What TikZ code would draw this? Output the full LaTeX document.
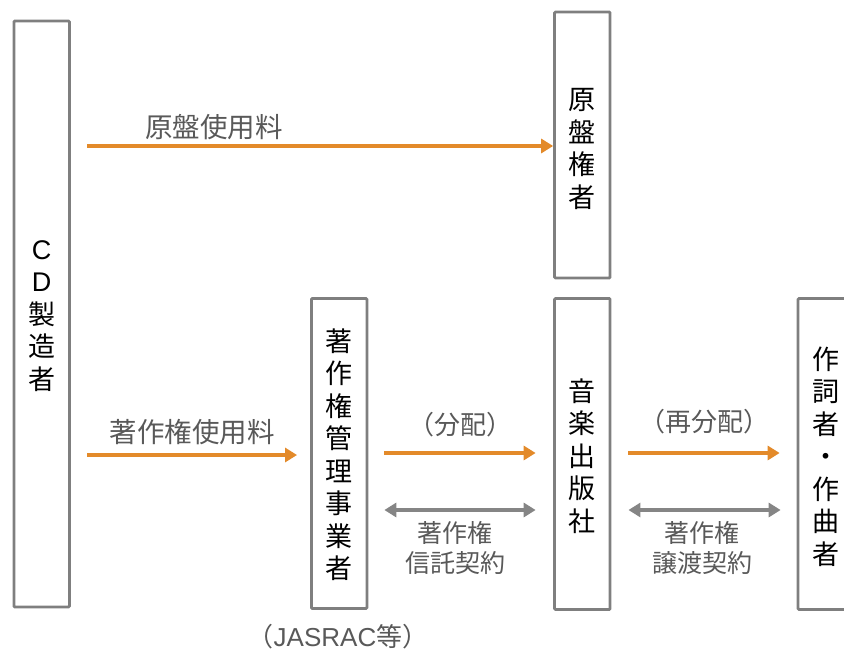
\documentclass[tikz,border=0pt]{standalone}
\usepackage{fontspec}
\setmainfont{Noto Sans CJK JP}
\newfontfamily\lat{Liberation Sans}
\usetikzlibrary{arrows.meta}
\definecolor{boxgray}{HTML}{7F7F7F}
\definecolor{orng}{HTML}{E38A2A}
\definecolor{agray}{HTML}{858585}
\definecolor{lblgray}{HTML}{595959}
\begin{document}
\begin{tikzpicture}[x=1pt,y=-1pt,
  box/.style={draw=boxgray,line width=2.8pt,rounded corners=1pt,minimum width=55.5pt,inner sep=0pt},
  boxtext/.style={inner sep=0pt,align=center,font=\fontsize{27}{32.5}\selectfont},
  oarrow/.style={draw=orng,line width=3.2pt,-{Triangle[length=12pt,width=14pt]}},
  garrow/.style={draw=agray,line width=3.2pt,{Triangle[length=12pt,width=14pt]}-{Triangle[length=12pt,width=14pt]}},
  lbl/.style={text=lblgray,inner sep=0pt,font=\fontsize{27.5}{30}\selectfont},
  plbl/.style={text=lblgray,inner sep=0pt,font=\fontsize{26}{30}\selectfont},
  slbl/.style={text=lblgray,inner sep=0pt,align=center,font=\fontsize{25}{30}\selectfont}]
\clip (0,0) rectangle (844,651);
% boxes
\node[box,minimum height=586pt] (cd) at (41.7,314) {};
\node[box,minimum height=266pt] (genban) at (582.3,145) {};
\node[box,minimum height=310pt] (kanri) at (339.2,453.5) {};
\node[box,minimum height=311pt] (ongaku) at (582.3,454) {};
\node[box,minimum height=311pt] (sakushi) at (825.8,454) {};
% box texts
\node[boxtext] (cdt) at (41.7,316) {{\lat C}\\{\lat D}\\製\\造\\者};
\node[boxtext] (genbant) at (582.3,149) {原\\盤\\権\\者};
\node[boxtext] (kanrit) at (339.2,454.5) {著\\作\\権\\管\\理\\事\\業\\者};
\node[boxtext] (ongakut) at (582.3,456) {音\\楽\\出\\版\\社};
\node[boxtext] (sakushit) at (825.8,456.5) {作\\詞\\者\\・\\作\\曲\\者};
% arrows
\coordinate (a1) at (87,146);
\draw[oarrow] (a1) -- (genban.west |- a1);
\coordinate (a2) at (87,455);
\draw[oarrow] (a2) -- ([xshift=-13pt]kanri.west |- a2);
\coordinate (a3) at ([xshift=16pt]kanri.east |- 0,453);
\draw[oarrow] (a3) -- ([xshift=-17.5pt]ongaku.west |- a3);
\coordinate (a4) at ([xshift=16pt]kanri.east |- 0,510);
\draw[garrow] (a4) -- ([xshift=-17.5pt]ongaku.west |- a4);
\coordinate (a5) at ([xshift=17pt]ongaku.east |- 0,453);
\draw[oarrow] (a5) -- ([xshift=-17pt]sakushi.west |- a5);
\coordinate (a6) at ([xshift=17pt]ongaku.east |- 0,510);
\draw[garrow] (a6) -- ([xshift=-16pt]sakushi.west |- a6);
% labels
\node[lbl] (l1) at (214,127) {原盤使用料};
\node[lbl] (l2) at (192,432) {著作権使用料};
\node[plbl] (l3) at (460,425) {（分配）};
\node[plbl] (l4) at (704,422) {（再分配）};
\node[slbl] (l5) at (455,548) {著作権\\信託契約};
\node[slbl] (l6) at (702,548) {著作権\\譲渡契約};
\node[plbl] (l7) at (338,637) {（{\lat JASRAC}等）};
\end{tikzpicture}
\end{document}
